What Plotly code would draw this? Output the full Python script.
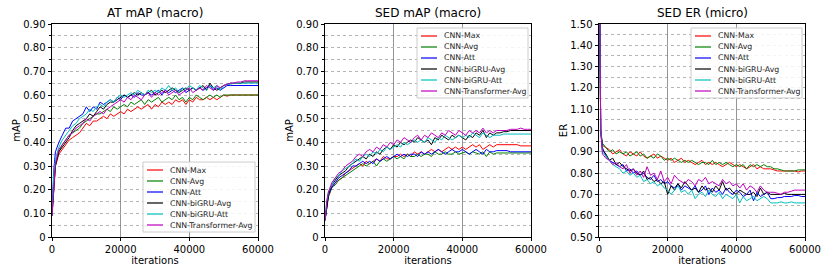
import plotly.graph_objects as go

iterations = [0, 500, 1000, 2000, 3000, 4000, 5000, 6000, 7000, 8000,
              9000, 10000, 11000, 12000, 13000, 14000, 15000, 16000, 17000, 18000,
              19000, 20000, 21000, 22000, 23000, 24000, 25000, 26000, 27000, 28000,
              29000, 30000, 31000, 32000, 33000, 34000, 35000, 36000, 37000, 38000,
              39000, 40000, 41000, 42000, 43000, 44000, 45000, 46000, 47000, 48000,
              49000, 50000, 51000, 52000, 53000, 54000, 55000, 56000, 57000, 58000,
              59000, 60000]

model_names = ["CNN-Max", "CNN-Avg", "CNN-Att", "CNN-biGRU-Avg", "CNN-biGRU-Att", "CNN-Transformer-Avg"]
model_colors = ["#ff0000", "#008000", "#0000ff", "#000000", "#00bfbf", "#bf00bf"]

# ---- AT mAP (macro) ----
at_max = [0.09, 0.22, 0.30, 0.35, 0.37, 0.39, 0.41, 0.42, 0.43, 0.44,
          0.46, 0.48, 0.47, 0.49, 0.49, 0.50, 0.51, 0.50, 0.52, 0.51,
          0.52, 0.53, 0.52, 0.54, 0.53, 0.54, 0.55, 0.54, 0.55, 0.56,
          0.54, 0.56, 0.55, 0.57, 0.56, 0.57, 0.56, 0.58, 0.57, 0.58,
          0.56, 0.58, 0.57, 0.59, 0.58, 0.58, 0.59, 0.58, 0.59, 0.58,
          0.59, 0.60, 0.595, 0.60, 0.60, 0.60, 0.60, 0.60, 0.60, 0.60,
          0.60, 0.60]
at_avg = [0.09, 0.24, 0.31, 0.36, 0.39, 0.41, 0.43, 0.44, 0.45, 0.46,
          0.48, 0.49, 0.50, 0.51, 0.52, 0.52, 0.53, 0.54, 0.53, 0.55,
          0.54, 0.55, 0.56, 0.55, 0.57, 0.56, 0.57, 0.58, 0.56, 0.58,
          0.57, 0.58, 0.59, 0.57, 0.58, 0.59, 0.58, 0.60, 0.58, 0.59,
          0.57, 0.59, 0.58, 0.60, 0.59, 0.58, 0.59, 0.60, 0.59, 0.60,
          0.59, 0.60, 0.60, 0.60, 0.60, 0.60, 0.60, 0.60, 0.60, 0.60,
          0.60, 0.60]
at_att = [0.09, 0.28, 0.36, 0.40, 0.43, 0.46, 0.46, 0.49, 0.50, 0.51,
          0.52, 0.55, 0.53, 0.55, 0.54, 0.57, 0.56, 0.57, 0.58, 0.57,
          0.59, 0.58, 0.60, 0.59, 0.60, 0.59, 0.61, 0.60, 0.60, 0.61,
          0.60, 0.61, 0.62, 0.60, 0.62, 0.61, 0.62, 0.61, 0.62, 0.63,
          0.61, 0.62, 0.63, 0.62, 0.63, 0.62, 0.63, 0.64, 0.62, 0.63,
          0.62, 0.63, 0.64, 0.64, 0.64, 0.64, 0.64, 0.64, 0.64, 0.64,
          0.64, 0.64]
at_gru_avg = [0.09, 0.22, 0.30, 0.36, 0.38, 0.40, 0.42, 0.45, 0.47, 0.48,
              0.49, 0.50, 0.52, 0.51, 0.53, 0.55, 0.54, 0.56, 0.57, 0.57,
              0.58, 0.59, 0.60, 0.59, 0.60, 0.61, 0.60, 0.61, 0.60, 0.61,
              0.62, 0.60, 0.61, 0.62, 0.61, 0.62, 0.63, 0.62, 0.61, 0.62,
              0.63, 0.62, 0.63, 0.62, 0.63, 0.64, 0.62, 0.65, 0.63, 0.62,
              0.63, 0.64, 0.645, 0.65, 0.65, 0.65, 0.65, 0.655, 0.655, 0.655,
              0.655, 0.655]
at_gru_att = [0.09, 0.26, 0.33, 0.38, 0.41, 0.43, 0.45, 0.47, 0.48, 0.50,
              0.51, 0.52, 0.54, 0.53, 0.55, 0.56, 0.55, 0.57, 0.58, 0.57,
              0.59, 0.60, 0.59, 0.60, 0.61, 0.60, 0.62, 0.61, 0.60, 0.62,
              0.61, 0.62, 0.61, 0.63, 0.62, 0.64, 0.62, 0.63, 0.61, 0.63,
              0.62, 0.64, 0.63, 0.62, 0.64, 0.63, 0.62, 0.64, 0.63, 0.64,
              0.62, 0.64, 0.645, 0.645, 0.65, 0.65, 0.65, 0.65, 0.65, 0.65,
              0.65, 0.65]
at_trans_avg = [0.09, 0.23, 0.31, 0.37, 0.39, 0.41, 0.43, 0.44, 0.46, 0.47,
                0.48, 0.50, 0.49, 0.51, 0.52, 0.53, 0.52, 0.54, 0.55, 0.56,
                0.57, 0.58, 0.57, 0.59, 0.58, 0.60, 0.59, 0.58, 0.60, 0.61,
                0.59, 0.61, 0.60, 0.61, 0.62, 0.60, 0.61, 0.62, 0.60, 0.61,
                0.62, 0.63, 0.61, 0.62, 0.63, 0.62, 0.64, 0.63, 0.62, 0.64,
                0.63, 0.64, 0.645, 0.65, 0.65, 0.655, 0.655, 0.66, 0.66, 0.66,
                0.66, 0.66]

# ---- SED mAP (macro) ----
sed_max = [0.07, 0.13, 0.17, 0.21, 0.23, 0.24, 0.25, 0.27, 0.28, 0.29,
           0.30, 0.31, 0.30, 0.32, 0.31, 0.32, 0.33, 0.32, 0.34, 0.33,
           0.33, 0.34, 0.34, 0.35, 0.34, 0.35, 0.34, 0.36, 0.35, 0.36,
           0.35, 0.36, 0.37, 0.36, 0.37, 0.36, 0.37, 0.38, 0.37, 0.38,
           0.37, 0.38, 0.37, 0.38, 0.39, 0.38, 0.39, 0.37, 0.38, 0.39,
           0.38, 0.39, 0.39, 0.39, 0.39, 0.39, 0.39, 0.39, 0.385, 0.385,
           0.385, 0.385]
sed_avg = [0.07, 0.13, 0.17, 0.21, 0.22, 0.24, 0.25, 0.26, 0.27, 0.28,
           0.29, 0.30, 0.31, 0.30, 0.31, 0.32, 0.30, 0.32, 0.33, 0.32,
           0.33, 0.34, 0.33, 0.34, 0.33, 0.35, 0.34, 0.34, 0.35, 0.34,
           0.35, 0.35, 0.34, 0.36, 0.35, 0.35, 0.36, 0.35, 0.35, 0.36,
           0.35, 0.355, 0.36, 0.35, 0.36, 0.355, 0.35, 0.36, 0.34, 0.36,
           0.35, 0.355, 0.355, 0.355, 0.355, 0.355, 0.355, 0.355, 0.355, 0.355,
           0.355, 0.355]
sed_att = [0.07, 0.14, 0.18, 0.21, 0.23, 0.25, 0.26, 0.27, 0.28, 0.30,
           0.30, 0.31, 0.32, 0.31, 0.32, 0.31, 0.33, 0.32, 0.33, 0.34,
           0.33, 0.34, 0.35, 0.34, 0.35, 0.34, 0.35, 0.35, 0.34, 0.36,
           0.35, 0.36, 0.35, 0.36, 0.37, 0.36, 0.35, 0.36, 0.37, 0.36,
           0.36, 0.37, 0.36, 0.35, 0.36, 0.37, 0.36, 0.35, 0.37, 0.36,
           0.36, 0.365, 0.365, 0.365, 0.365, 0.36, 0.36, 0.36, 0.36, 0.36,
           0.36, 0.36]
sed_gru_avg = [0.07, 0.14, 0.18, 0.22, 0.24, 0.26, 0.27, 0.28, 0.30, 0.31,
               0.32, 0.33, 0.34, 0.33, 0.35, 0.34, 0.36, 0.35, 0.37, 0.38,
               0.37, 0.39, 0.38, 0.40, 0.39, 0.40, 0.41, 0.40, 0.42, 0.41,
               0.40, 0.41, 0.39, 0.42, 0.41, 0.43, 0.42, 0.41, 0.43, 0.42,
               0.43, 0.42, 0.41, 0.43, 0.42, 0.44, 0.43, 0.45, 0.42, 0.44,
               0.43, 0.44, 0.44, 0.445, 0.445, 0.45, 0.45, 0.45, 0.45, 0.45,
               0.45, 0.45]
sed_gru_att = [0.07, 0.15, 0.19, 0.22, 0.25, 0.26, 0.28, 0.29, 0.30, 0.31,
               0.33, 0.32, 0.34, 0.35, 0.34, 0.36, 0.35, 0.37, 0.36, 0.38,
               0.37, 0.38, 0.39, 0.38, 0.40, 0.39, 0.40, 0.41, 0.40, 0.41,
               0.40, 0.42, 0.41, 0.40, 0.42, 0.41, 0.43, 0.42, 0.41, 0.42,
               0.43, 0.42, 0.43, 0.42, 0.44, 0.43, 0.42, 0.44, 0.43, 0.42,
               0.43, 0.43, 0.43, 0.435, 0.435, 0.435, 0.435, 0.435, 0.435, 0.435,
               0.435, 0.435]
sed_trans_avg = [0.07, 0.15, 0.19, 0.23, 0.25, 0.27, 0.28, 0.30, 0.31, 0.32,
                 0.34, 0.35, 0.34, 0.36, 0.37, 0.36, 0.38, 0.37, 0.39, 0.38,
                 0.40, 0.39, 0.41, 0.40, 0.42, 0.41, 0.40, 0.42, 0.43, 0.41,
                 0.43, 0.42, 0.44, 0.43, 0.42, 0.44, 0.43, 0.45, 0.44, 0.43,
                 0.45, 0.44, 0.43, 0.45, 0.44, 0.45, 0.44, 0.46, 0.44, 0.45,
                 0.44, 0.45, 0.45, 0.45, 0.45, 0.455, 0.455, 0.455, 0.46, 0.455,
                 0.455, 0.455]

# ---- SED ER (micro) ----
er_max = [2.00, 1.00, 0.93, 0.92, 0.91, 0.89, 0.90, 0.91, 0.89, 0.88,
          0.90, 0.89, 0.88, 0.90, 0.88, 0.87, 0.88, 0.89, 0.87, 0.88,
          0.87, 0.86, 0.87, 0.85, 0.86, 0.87, 0.85, 0.86, 0.85, 0.84,
          0.85, 0.86, 0.84, 0.85, 0.84, 0.85, 0.84, 0.83, 0.84, 0.85,
          0.84, 0.83, 0.84, 0.83, 0.82, 0.83, 0.84, 0.82, 0.83, 0.82,
          0.82, 0.82, 0.815, 0.81, 0.81, 0.81, 0.81, 0.81, 0.81, 0.805,
          0.81, 0.81]
er_avg = [2.00, 1.00, 0.94, 0.92, 0.90, 0.91, 0.89, 0.90, 0.89, 0.90,
          0.88, 0.89, 0.90, 0.88, 0.89, 0.87, 0.88, 0.87, 0.89, 0.88,
          0.86, 0.87, 0.86, 0.87, 0.86, 0.85, 0.86, 0.85, 0.86, 0.85,
          0.84, 0.85, 0.85, 0.84, 0.86, 0.84, 0.85, 0.84, 0.85, 0.84,
          0.83, 0.84, 0.83, 0.84, 0.82, 0.84, 0.83, 0.84, 0.83, 0.84,
          0.83, 0.83, 0.82, 0.82, 0.815, 0.81, 0.81, 0.81, 0.81, 0.815,
          0.815, 0.815]
er_att = [2.00, 1.00, 0.92, 0.88, 0.86, 0.85, 0.84, 0.83, 0.84, 0.81,
          0.82, 0.80, 0.81, 0.79, 0.80, 0.78, 0.77, 0.79, 0.76, 0.77,
          0.75, 0.76, 0.74, 0.73, 0.75, 0.72, 0.74, 0.73, 0.72, 0.74,
          0.71, 0.72, 0.74, 0.70, 0.73, 0.71, 0.72, 0.70, 0.73, 0.71,
          0.70, 0.72, 0.71, 0.69, 0.70, 0.72, 0.67, 0.71, 0.69, 0.70,
          0.71, 0.68, 0.68, 0.685, 0.685, 0.69, 0.69, 0.69, 0.695, 0.695,
          0.69, 0.69]
er_gru_avg = [2.00, 1.00, 0.91, 0.89, 0.86, 0.87, 0.84, 0.85, 0.83, 0.82,
              0.81, 0.82, 0.80, 0.79, 0.81, 0.77, 0.78, 0.76, 0.77, 0.75,
              0.76, 0.70, 0.74, 0.72, 0.75, 0.73, 0.76, 0.74, 0.72, 0.73,
              0.71, 0.74, 0.72, 0.73, 0.71, 0.74, 0.72, 0.76, 0.72, 0.73,
              0.71, 0.70, 0.72, 0.71, 0.70, 0.70, 0.71, 0.69, 0.73, 0.70,
              0.71, 0.70, 0.70, 0.70, 0.70, 0.705, 0.70, 0.70, 0.70, 0.70,
              0.70, 0.70]
er_gru_att = [2.00, 1.00, 0.90, 0.88, 0.86, 0.84, 0.83, 0.82, 0.80, 0.81,
              0.79, 0.80, 0.78, 0.79, 0.76, 0.77, 0.75, 0.76, 0.74, 0.75,
              0.73, 0.72, 0.70, 0.72, 0.74, 0.71, 0.72, 0.70, 0.72, 0.68,
              0.70, 0.71, 0.69, 0.72, 0.70, 0.69, 0.71, 0.68, 0.70, 0.69,
              0.68, 0.70, 0.66, 0.69, 0.67, 0.68, 0.69, 0.67, 0.68, 0.69,
              0.68, 0.66, 0.66, 0.66, 0.665, 0.66, 0.66, 0.665, 0.66, 0.66,
              0.66, 0.66]
er_trans_avg = [2.00, 1.00, 0.89, 0.87, 0.86, 0.84, 0.85, 0.83, 0.82, 0.84,
                0.80, 0.82, 0.79, 0.81, 0.78, 0.83, 0.79, 0.80, 0.77, 0.81,
                0.76, 0.78, 0.75, 0.79, 0.77, 0.76, 0.75, 0.77, 0.76, 0.74,
                0.77, 0.76, 0.78, 0.75, 0.76, 0.75, 0.74, 0.77, 0.75, 0.76,
                0.74, 0.75, 0.73, 0.75, 0.72, 0.74, 0.73, 0.71, 0.74, 0.72,
                0.71, 0.71, 0.71, 0.705, 0.70, 0.71, 0.71, 0.715, 0.72, 0.72,
                0.72, 0.72]

panels = [
    dict(title="AT mAP (macro)", ylabel="mAP",
         series=[at_max, at_avg, at_att, at_gru_avg, at_gru_att, at_trans_avg]),
    dict(title="SED mAP (macro)", ylabel="mAP",
         series=[sed_max, sed_avg, sed_att, sed_gru_avg, sed_gru_att, sed_trans_avg]),
    dict(title="SED ER (micro)", ylabel="ER",
         series=[er_max, er_avg, er_att, er_gru_avg, er_gru_att, er_trans_avg]),
]

x_ticks = [0, 20000, 40000, 60000]
map_ticks = [0, 0.1, 0.2, 0.3, 0.4, 0.5, 0.6, 0.7, 0.8, 0.9]
map_labels = ["0", "0.10", "0.20", "0.30", "0.40", "0.50", "0.60", "0.70", "0.80", "0.90"]
er_ticks = [0.5, 0.6, 0.7, 0.8, 0.9, 1.0, 1.1, 1.2, 1.3, 1.4, 1.5]
er_labels = ["0.50", "0.60", "0.70", "0.80", "0.90", "1.00", "1.10", "1.20", "1.30", "1.40", "1.50"]

W, H = 830, 277
FONT = "DejaVu Sans"
x_px = [(52, 258), (325, 531), (599, 805)]
y_top, y_bot = 24, 237
ydom = [1 - y_bot / H, 1 - y_top / H]
# legend boxes (left, top, right, bottom) in pixels
legend_box = [(143, 162, 255, 232), (417, 28, 528, 98), (691, 28, 802, 98)]

fig = go.Figure()

for i, p in enumerate(panels):
    sfx = "" if i == 0 else str(i + 1)
    for name, col, ys in zip(model_names, model_colors, p["series"]):
        fig.add_trace(go.Scatter(
            x=iterations, y=ys, mode="lines", name=name,
            line=dict(color=col, width=1),
            xaxis="x" + sfx, yaxis="y" + sfx, showlegend=False,
        ))

layout = dict(
    width=W, height=H, margin=dict(l=0, r=0, t=0, b=0, autoexpand=False),
    paper_bgcolor="white", plot_bgcolor="white",
    font=dict(family=FONT, size=10, color="black"),
    showlegend=False,
)

for i, p in enumerate(panels):
    sfx = "" if i == 0 else str(i + 1)
    x0, x1 = x_px[i]
    is_er = p["ylabel"] == "ER"
    yr = [0.5, 1.5] if is_er else [0, 0.9]
    layout["xaxis" + sfx] = dict(
        domain=[x0 / W, x1 / W], anchor="y" + sfx, range=[0, 60000],
        tickvals=x_ticks, ticktext=[str(v) for v in x_ticks],
        showgrid=True, gridcolor="#7a7a7a", gridwidth=0.8,
        showline=True, linecolor="black", linewidth=1, mirror=True,
        ticks="outside", ticklen=3, tickcolor="black",
        zeroline=False, automargin=False,
        title=dict(text="iterations", standoff=0, font=dict(size=10)),
        tickfont=dict(size=10),
    )
    layout["yaxis" + sfx] = dict(
        domain=ydom, anchor="x" + sfx, range=yr,
        tickvals=er_ticks if is_er else map_ticks,
        ticktext=er_labels if is_er else map_labels,
        showgrid=True, gridcolor="#b4b4b4", gridwidth=1, griddash="dot",
        showline=True, linecolor="black", linewidth=1, mirror=True,
        ticks="outside", ticklen=3.5, tickcolor="black",
        zeroline=False, automargin=False,
        minor=dict(dtick=0.05, tick0=0, ticks="outside", ticklen=2, tickcolor="black",
                   showgrid=True, gridcolor="#b4b4b4", griddash="dot", gridwidth=1),
        title=dict(text=p["ylabel"], standoff=0, font=dict(size=10)),
        tickfont=dict(size=10),
    )

annotations = []
shapes = []
for i, p in enumerate(panels):
    x0, x1 = x_px[i]
    annotations.append(dict(
        text=p["title"], x=(x0 + x1) / 2 / W, y=1 - 13 / H,
        xref="paper", yref="paper", showarrow=False,
        xanchor="center", yanchor="middle", font=dict(size=12, family=FONT),
    ))
    # custom compact legend (matplotlib-like)
    bl, bt, br, bb = legend_box[i]
    shapes.append(dict(type="rect", xref="paper", yref="paper",
                       x0=bl / W, x1=br / W, y0=1 - bb / H, y1=1 - bt / H,
                       line=dict(color="#cccccc", width=1),
                       fillcolor="rgba(255,255,255,0.85)", layer="above"))
    row_h = (bb - bt - 4) / len(model_names)
    for k, (name, col) in enumerate(zip(model_names, model_colors)):
        yc = bt + 2 + row_h * (k + 0.5) + 0.5
        shapes.append(dict(type="line", xref="paper", yref="paper",
                           x0=(bl + 4) / W, x1=(bl + 20) / W,
                           y0=1 - yc / H, y1=1 - yc / H,
                           line=dict(color=col, width=1.2), layer="above"))
        annotations.append(dict(
            text=name, x=(bl + 25) / W, y=1 - yc / H, xref="paper", yref="paper",
            showarrow=False, xanchor="left", yanchor="middle",
            font=dict(size=7.8, family=FONT, color="#222222"),
        ))

layout["annotations"] = annotations
layout["shapes"] = shapes

fig.update_layout(**layout)
fig.write_html("out.html", config={"displayModeBar": False, "staticPlot": True},
               post_script="document.body.style.margin='0px';document.body.style.padding='0px';")
